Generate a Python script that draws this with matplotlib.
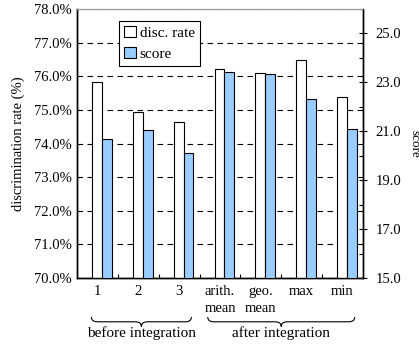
import matplotlib
matplotlib.use('Agg')
import matplotlib.pyplot as plt
import matplotlib.transforms as mtransforms
from matplotlib.path import Path
from matplotlib.patches import PathPatch
import numpy as np

plt.rcParams['font.family'] = ['Liberation Serif', 'DejaVu Serif']
plt.rcParams['font.size'] = 10.5

# data
categories = ['1', '2', '3', 'arith.\nmean', 'geo.\nmean', 'max', 'min']
disc_rate = [75.84, 74.93, 74.65, 76.23, 76.11, 76.47, 75.38]
score = [20.67, 21.05, 20.13, 23.42, 23.33, 22.31, 21.09]
groups = [('before integration', 0, 2), ('after integration', 3, 6)]

x = np.arange(len(categories))
w = 0.24

fig = plt.figure(figsize=(4.19, 3.45), dpi=100)
ax = fig.add_axes([0.184, 0.194, 0.682, 0.780])
ax2 = ax.twinx()

# bars: disc. rate on the left axis, score on the right axis
b1 = ax.bar(x - 0.01, disc_rate, w, color='white', edgecolor='black',
            linewidth=0.8, zorder=3, label='disc. rate')
b2 = ax2.bar(x + 0.23, score, w, color='#99CCFF', edgecolor='black',
             linewidth=0.8, zorder=3, label='score')

ax.set_xlim(-0.5, len(categories) - 0.5)
ax.set_ylim(70, 78)
ax.set_yticks(np.arange(70, 78.5, 1))
ax.set_yticklabels(['%.1f%%' % v for v in np.arange(70, 78.5, 1)])
ax.yaxis.grid(True, color='black', linestyle=(0, (5, 4)), linewidth=0.8)
ax.set_axisbelow(True)
ax.tick_params(axis='y', direction='in', length=0, pad=4)
ax.set_ylabel('discrimination rate (%)', labelpad=6, fontsize=10.5)

# category ticks between groups, labels at the centres
ax.set_xticks(x)
ax.set_xticklabels(categories, linespacing=1.35)
ax.tick_params(axis='x', length=0, pad=5)
ax.set_xticks(np.arange(0.5, len(categories) - 0.5, 1), minor=True)
ax.tick_params(axis='x', which='minor', direction='in', length=3, width=0.8)

ax2.set_ylim(15, 26)
ax2.set_yticks(np.arange(15, 26, 2))
ax2.set_yticklabels(['%.1f' % v for v in np.arange(15, 26, 2)])
ax2.set_yticks(np.arange(16, 26, 2), minor=True)
ax2.tick_params(axis='y', which='major', direction='inout', length=6, width=0.8, pad=6)
ax2.tick_params(axis='y', which='minor', direction='in', length=3, width=0.8)
ax2.set_ylabel('score', rotation=270, labelpad=14, fontsize=9.5)

for a in (ax, ax2):
    for s in ('left', 'right', 'bottom'):
        a.spines[s].set_linewidth(1.0)
        a.spines[s].set_color('black')
    a.spines['top'].set_color('#999999')
    a.spines['top'].set_linestyle((0, (2, 1)))

leg = ax.legend(handles=[b1, b2], loc='upper left', bbox_to_anchor=(0.147, 0.957),
                frameon=True, fancybox=False, edgecolor='black', framealpha=1,
                handlelength=0.75, handleheight=0.75, handletextpad=0.25,
                borderpad=0.35, labelspacing=0.45, borderaxespad=0, fontsize=11)
leg.get_frame().set_linewidth(0.8)
leg.set_zorder(5)

# curly braces under the groups
trans = mtransforms.blended_transform_factory(ax.transData, ax.transAxes)


def brace(x0, x1, y_top, y_bot, label):
    xm = (x0 + x1) / 2
    ym = (y_top + y_bot) / 2
    dx = 0.15
    verts = [(x0, y_top), (x0, ym), (x0 + dx, ym), (xm - dx, ym),
             (xm, ym), (xm, y_bot), (xm, y_bot),
             (xm, ym), (xm + dx, ym), (x1 - dx, ym),
             (x1, ym), (x1, y_top)]
    codes = [Path.MOVETO, Path.CURVE3, Path.CURVE3, Path.LINETO,
             Path.CURVE3, Path.CURVE3, Path.MOVETO,
             Path.CURVE3, Path.CURVE3, Path.LINETO,
             Path.CURVE3, Path.CURVE3]
    p = PathPatch(Path(verts, codes), transform=trans, fill=False,
                  edgecolor='black', linewidth=0.8, clip_on=False)
    ax.add_patch(p)
    ax.text(xm, y_bot + 0.002, label, transform=trans, ha='center', va='top',
            fontsize=11)


spans = [(-0.15, 2.3), (2.7, 6.3)]
for (name, i0, i1), (s0, s1) in zip(groups, spans):
    brace(s0, s1, -0.145, -0.18, name)

fig.savefig('out.png', dpi=100)
